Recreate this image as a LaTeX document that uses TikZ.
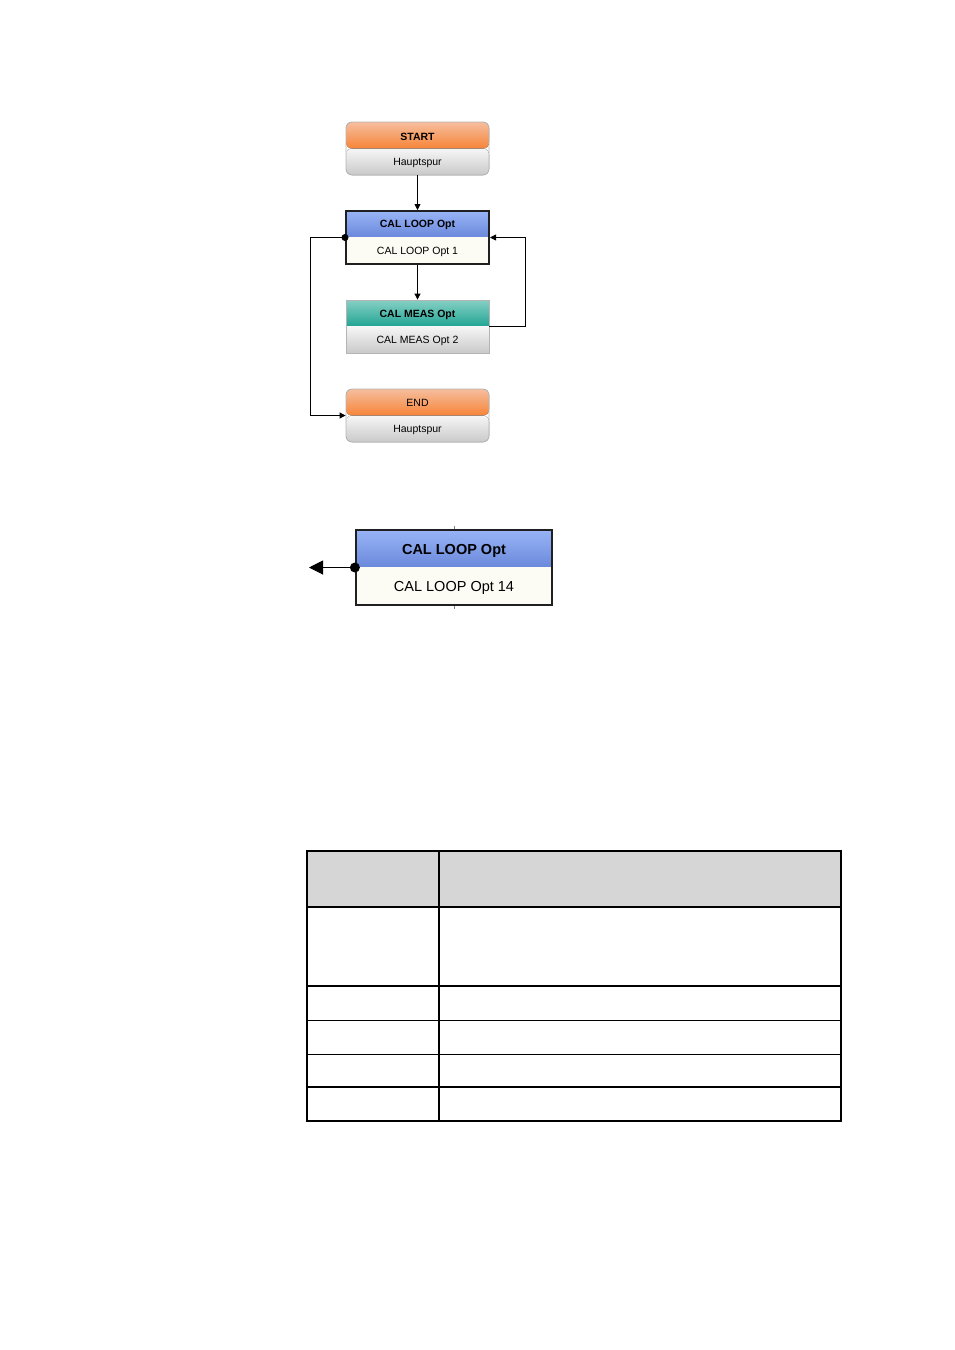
\documentclass[tikz,border=0pt]{standalone}
\usepackage{fontspec}
\setmainfont{Liberation Sans}
\usepackage{tikz}
\usetikzlibrary{arrows.meta, positioning, calc}
\definecolor{boxgray}{HTML}{B4B4B4}
\definecolor{frame}{HTML}{202020}
\definecolor{peach}{HTML}{F6BE9E}
\definecolor{orng}{HTML}{F77A25}
\definecolor{lblue}{HTML}{98B4F6}
\definecolor{dblue}{HTML}{6280D6}
\definecolor{lteal}{HTML}{86D0C4}
\definecolor{dteal}{HTML}{0E9C8A}
\definecolor{gtop}{HTML}{F6F6F6}
\definecolor{gbot}{HTML}{C9C9C9}
\definecolor{cream}{HTML}{FCFCF4}
\definecolor{tblhead}{HTML}{D6D6D6}

\begin{document}
\begin{tikzpicture}[x=1pt, y=-1pt,
  box/.style={minimum width=143pt, minimum height=53pt, inner sep=0pt,
              draw=boxgray, line width=0.8pt},
  twotone/.style n args={4}{path picture={
      \fill[top color=#1, bottom color=#2, middle color=#2!85!#1]
        (path picture bounding box.north west) rectangle (path picture bounding box.east);
      \fill[top color=#3, bottom color=#4]
        (path picture bounding box.west) rectangle (path picture bounding box.south east);}},
  hdr/.style={font=\fontsize{10.5}{12}\selectfont\bfseries, inner sep=0pt, yshift=-1.5pt},
  bdy/.style={font=\fontsize{10.5}{12}\selectfont, inner sep=0pt, yshift=-1pt},
  arr/.style={-{Triangle[length=6pt, width=6pt]}, line width=0.8pt},
  dot/.style={circle, fill=black, inner sep=0pt, minimum size=7pt}
]
\useasboundingbox (0,0) rectangle (954,1350);

% Start
\node[box, rounded corners=6pt, twotone={peach}{orng}{gtop}{gbot}] (start) at (417.5,148.5) {};
\node[hdr] (start-h) at ($(start.north)!0.25!(start.south)$) {START};
\node[bdy] (start-b) at ($(start.north)!0.75!(start.south)$) {Hauptspur};

% Loop
\node[box, draw=frame, line width=2pt, twotone={lblue}{dblue}{cream}{cream}] (loop1) at (417.5,237.5) {};
\node[hdr] (loop1-h) at ($(loop1.north)!0.25!(loop1.south)$) {CAL LOOP Opt};
\node[bdy] (loop1-b) at ($(loop1.north)!0.75!(loop1.south)$) {CAL LOOP Opt 1};

% Measurement
\node[box, twotone={lteal}{dteal}{gtop}{gbot}] (meas) at (417.5,326.5) {};
\node[hdr] (meas-h) at ($(meas.north)!0.25!(meas.south)$) {CAL MEAS Opt};
\node[bdy] (meas-b) at ($(meas.north)!0.75!(meas.south)$) {CAL MEAS Opt 2};

% End
\node[box, rounded corners=6pt, twotone={peach}{orng}{gtop}{gbot}] (end) at (417.5,415.5) {};
\node[bdy] (end-h) at ($(end.north)!0.25!(end.south)$) {END};
\node[bdy] (end-b) at ($(end.north)!0.75!(end.south)$) {Hauptspur};

% Connectors
\draw[arr] (start.south) -- (loop1.north);
\draw[arr] (loop1.south) -- (meas.north);
\draw[arr] (meas.east) -- ++(36,0) |- (loop1.east);
\node[dot] (exit) at (loop1.west) {};
\draw[arr] (exit.center) -- ++(-35,0) |- (end.west);

% Enlarged loop element
\node[minimum width=196pt, minimum height=75pt, inner sep=0pt, draw=frame, line width=2.2pt,
      twotone={lblue}{dblue}{cream}{cream}] (loop14) at (454,567.5) {};
\node[font=\fontsize{14.5}{16}\selectfont\bfseries, yshift=-2.5pt] (loop14-h) at ($(loop14.north)!0.25!(loop14.south)$) {CAL LOOP Opt};
\node[font=\fontsize{14.5}{16}\selectfont, yshift=-1pt] (loop14-b) at ($(loop14.north)!0.75!(loop14.south)$) {CAL LOOP Opt 14};
\draw[gray, line width=0.8pt] (loop14.north) -- ++(0,-3);
\draw[gray, line width=0.8pt] (loop14.south) -- ++(0,3);
\node[dot, minimum size=10pt] (exit14) at (loop14.west) {};
\coordinate (out14) at (309,567.5);
\draw[-{Triangle[length=14pt, width=14pt]}, line width=1pt] (exit14.center) -- (out14);

% Table
\fill[tblhead] (307,851) rectangle (841,907);
\draw[line width=1.4pt] (307,907) -- (841,907);
\draw[line width=1.4pt] (307,986) -- (841,986);
\draw[line width=1pt] (307,1020) -- (841,1020);
\draw[line width=1pt] (307,1054) -- (841,1054);
\draw[line width=1.4pt] (307,1087) -- (841,1087);
\draw[line width=1.8pt] (439,851) -- (439,1121);
\draw[line width=1.8pt] (307,851) rectangle (841,1121);
\end{tikzpicture}
\end{document}
